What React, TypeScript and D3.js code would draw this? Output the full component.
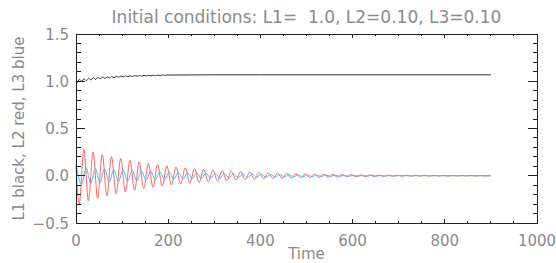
import React from 'react';
import * as d3 from 'd3';

// tick labels
const xMajorTicks = [0, 200, 400, 600, 800, 1000];
const xTickLabels = ['0', '200', '400', '600', '800', '1000'];
const yMajorTicks = [-0.5, 0, 0.5, 1.0, 1.5];
const yTickLabels = ['\u22120.5', '0.0', '0.5', '1.0', '1.5'];

// L1 (black): start value, extrema read every 5 time units from t=2.5, then the plateau
const l1Head = [[0, 1.0]];
const l1Start = 2.5;
const l1Step = 5;
const l1Extrema = [
  0.988, 1.020, 0.997, 1.026, 1.005, 1.032, 1.013, 1.037, 1.019, 1.041,
  1.025, 1.044, 1.030, 1.048, 1.034, 1.050, 1.038, 1.053, 1.042, 1.055,
  1.045, 1.057, 1.048, 1.058, 1.050, 1.060, 1.053, 1.061, 1.055, 1.062,
  1.056, 1.063, 1.058, 1.064, 1.059, 1.065, 1.060, 1.066, 1.062, 1.066,
];
const l1Tail = [[225, 1.066], [250, 1.067], [300, 1.068], [400, 1.068], [900, 1.068]];

// L2 (red): extrema every 10 time units from t=7
const l2Head = [[0, 0.10]];
const l2Start = 7;
const l2Step = 10;
const l2Extrema = [
  -0.298, 0.282, -0.267, 0.253, -0.239, 0.226, -0.214, 0.203, -0.192, 0.182,
  -0.172, 0.163, -0.154, 0.146, -0.138, 0.131, -0.124, 0.117, -0.111, 0.105,
  -0.099, 0.094, -0.089, 0.084, -0.080, 0.075, -0.071, 0.068, -0.064, 0.061,
  -0.057, 0.054, -0.051, 0.049, -0.046, 0.044, -0.041, 0.039, -0.037, 0.035,
  -0.033, 0.031, -0.030, 0.028, -0.027, 0.025, -0.024, 0.023, -0.021, 0.020,
  -0.019, 0.018, -0.017, 0.016, -0.015, 0.015, -0.014, 0.013, -0.012, 0.012,
  -0.011, 0.010, -0.010, 0.009, -0.009, 0.008, -0.008, 0.008, -0.007, 0.007,
  -0.006, 0.006, -0.006, 0.005, -0.005, 0.005, -0.005, 0.004, -0.004, 0.004,
  -0.004, 0.003, -0.003, 0.003, -0.003, 0.003, -0.003, 0.002, -0.002,
];
const l2Tail = [[900, 0.0]];

// L3 (blue): extrema every 10 time units from t=12
const l3Head = [[0, 0.12]];
const l3Start = 12;
const l3Step = 10;
const l3Extrema = [
  -0.090, 0.086, -0.082, 0.078, -0.075, 0.072, -0.068, 0.065, -0.062, 0.060,
  -0.057, 0.055, -0.052, 0.050, -0.048, 0.045, -0.043, 0.041, -0.040, 0.038,
  -0.036, 0.034, -0.033, 0.031, -0.030, 0.029, -0.027, 0.026, -0.025, 0.024,
  -0.023, 0.022, -0.021, 0.020, -0.019, 0.018, -0.017, 0.016, -0.016, 0.015,
  -0.014, 0.014, -0.013, 0.012, -0.012, 0.011, -0.011, 0.010, -0.010, 0.009,
  -0.009, 0.008, -0.008, 0.008, -0.007, 0.007, -0.007, 0.006, -0.006, 0.006,
  -0.005, 0.005, -0.005, 0.005, -0.004, 0.004, -0.004, 0.004, -0.003, 0.003,
];
const l3Tail = [[712, 0.0], [900, 0.0]];

const build = (head, start, step, ext, tail) =>
  head.concat(ext.map((v, i) => [start + i * step, v])).concat(tail);

const W = 556;
const H = 263;
const margin = { top: 34, right: 19, bottom: 40, left: 76 };
const font = "'DejaVu Sans', Verdana, sans-serif";
const textColor = '#8a8a8a';
const axisColor = '#222';

export default function App() {
  const x = d3.scaleLinear().domain([0, 1000]).range([margin.left, W - margin.right]);
  const y = d3.scaleLinear().domain([-0.5, 1.5]).range([H - margin.bottom, margin.top]);

  const line = d3
    .line()
    .x(d => x(d[0]))
    .y(d => y(d[1]))
    .curve(d3.curveMonotoneX);

  const l1 = build(l1Head, l1Start, l1Step, l1Extrema, l1Tail);
  const l2 = build(l2Head, l2Start, l2Step, l2Extrema, l2Tail);
  const l3 = build(l3Head, l3Start, l3Step, l3Extrema, l3Tail);

  const x0 = x(0), x1 = x(1000), yTop = y(1.5), yBot = y(-0.5);
  const xMinor = d3.range(0, 1001, 50);
  const yMinor = d3.range(-5, 16).map(i => i / 10);
  const xMajLen = 4, xMinLen = 2, yMajLen = 9, yMinLen = 4.5;

  return (
    <svg width={W} height={H} style={{ position: 'absolute', left: 0, top: 0, background: '#fff' }}>
      <text
        x={(x0 + x1) / 2}
        y={23}
        textAnchor="middle"
        fontFamily={font}
        fontSize={17}
        fill={textColor}
        style={{ whiteSpace: 'pre' }}
      >
        {'Initial conditions: L1=  1.0, L2=0.10, L3=0.10'}
      </text>

      <g fill="none" strokeWidth={1}>
        <path d={line(l1)} stroke="#303030" />
        <path d={line(l2)} stroke="#ff6464" />
        <path d={line(l3)} stroke="#4db8ee" />
      </g>

      <g stroke={axisColor} strokeWidth={1} shapeRendering="crispEdges">
        <rect x={x0} y={yTop} width={x1 - x0} height={yBot - yTop} fill="none" />
        {xMinor.map(v => {
          const len = v % 200 === 0 ? xMajLen : xMinLen;
          return (
            <g key={'x' + v}>
              <line x1={x(v)} x2={x(v)} y1={yBot} y2={yBot - len} />
              <line x1={x(v)} x2={x(v)} y1={yTop} y2={yTop + len} />
            </g>
          );
        })}
        {yMinor.map(v => {
          const len = Math.round(v * 10) % 5 === 0 ? yMajLen : yMinLen;
          return (
            <g key={'y' + v}>
              <line x1={x0} x2={x0 + len} y1={y(v)} y2={y(v)} />
              <line x1={x1} x2={x1 - len} y1={y(v)} y2={y(v)} />
            </g>
          );
        })}
      </g>

      <g fontFamily={font} fontSize={15} fill={textColor}>
        {xMajorTicks.map((v, i) => (
          <text key={v} x={x(v)} y={yBot + 23} textAnchor="middle">{xTickLabels[i]}</text>
        ))}
        {yMajorTicks.map((v, i) => (
          <text key={v} x={x0 - 7} y={y(v) + 5.5} textAnchor="end">{yTickLabels[i]}</text>
        ))}
        <text x={(x0 + x1) / 2} y={H - 4} textAnchor="middle">Time</text>
        <text
          transform={`translate(24,${(yTop + yBot) / 2}) rotate(-90)`}
          textAnchor="middle"
        >
          L1 black, L2 red, L3 blue
        </text>
      </g>
    </svg>
  );
}
